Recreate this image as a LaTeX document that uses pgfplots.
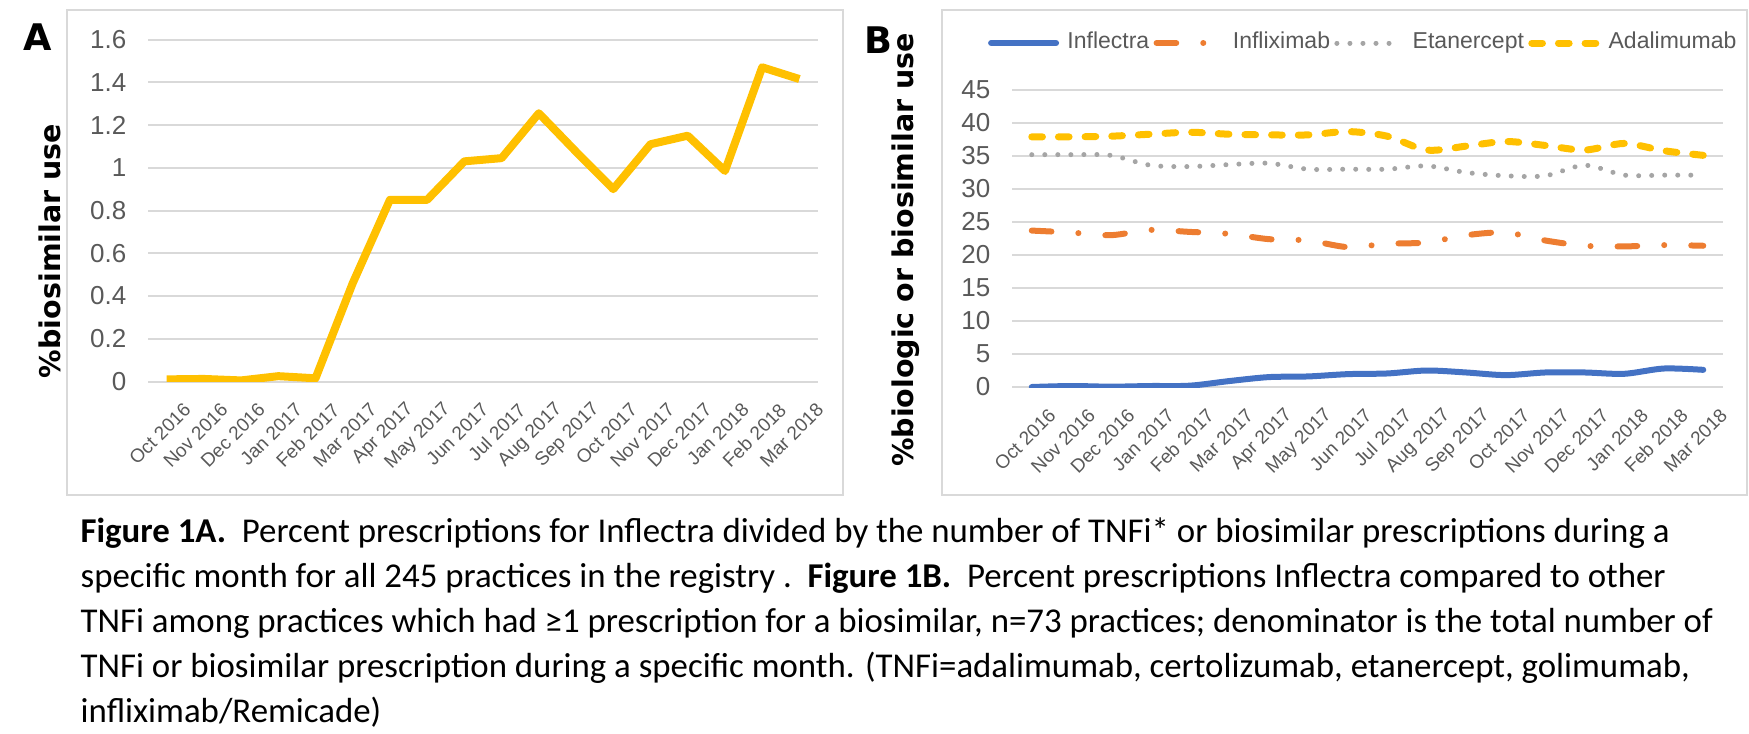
\documentclass[border=0pt]{standalone}
\usepackage{pgfplots}
\pgfplotsset{compat=1.18}
\usepackage{pgfplotstable}
\usepackage{fontspec}
\setmainfont{Carlito}
\newfontfamily\tickfont{Liberation Sans}
\newfontfamily\boldfont{DejaVu Sans}[BoldFont={DejaVu Sans Bold}]

\definecolor{xlgold}{HTML}{FFC000}
\definecolor{xlblue}{HTML}{4472C4}
\definecolor{xlorange}{HTML}{ED7D31}
\definecolor{xlgrey}{HTML}{A5A5A5}
\definecolor{gridc}{HTML}{D9D9D9}
\definecolor{txtc}{HTML}{595959}

% panel A: % biosimilar use per month
\pgfplotstableread{
x  pct
0  0.010
1  0.012
2  0.005
3  0.025
4  0.015
5  0.460
6  0.850
7  0.850
8  1.030
9  1.045
10 1.255
11 1.075
12 0.900
13 1.110
14 1.150
15 0.985
16 1.470
17 1.415
}\tblA

% panel B: share of each drug
\pgfplotstableread{
x  infl  infx  etan  adal
0  0.00  23.7  35.2  37.9
1  0.15  23.4  35.2  37.9
2  0.05  23.0  35.1  38.0
3  0.15  23.8  33.6  38.3
4  0.20  23.5  33.4  38.6
5  0.90  23.2  33.7  38.3
6  1.50  22.4  33.9  38.2
7  1.60  22.2  33.0  38.2
8  1.95  21.2  33.0  38.7
9  2.05  21.7  33.0  38.0
10 2.50  21.9  33.5  35.9
11 2.20  23.0  32.5  36.5
12 1.80  23.4  32.0  37.2
13 2.20  22.2  32.0  36.6
14 2.20  21.4  33.6  35.9
15 2.00  21.3  32.1  36.9
16 2.80  21.5  32.1  35.8
17 2.60  21.4  32.1  35.1
}\tblB

\pgfplotsset{
  xlstyle/.style={
    scale only axis,
    xmin=-0.5, xmax=17.5,
    ymin=0,
    axis line style={draw=none},
    major tick length=0pt,
    ymajorgrids,
    grid style={gridc, line width=0.6pt},
    /pgf/number format/assume math mode=true,
    xtick={0,...,17},
    xticklabels={Oct 2016,Nov 2016,Dec 2016,Jan 2017,Feb 2017,Mar 2017,Apr 2017,May 2017,Jun 2017,Jul 2017,Aug 2017,Sep 2017,Oct 2017,Nov 2017,Dec 2017,Jan 2018,Feb 2018,Mar 2018},
    xticklabel style={font=\tickfont\fontsize{5.7}{6}\selectfont, text=txtc, rotate=45, anchor=east, inner sep=0pt, xshift=-0.8pt, yshift=-9.7pt},
    yticklabel style={font=\tickfont\fontsize{7.8}{8}\selectfont, text=txtc, xshift=-3pt},
  }
}

\begin{document}
\begin{tikzpicture}
\useasboundingbox (0,0) rectangle (524.7pt,219.9pt);

% chart frames
\draw[gridc, line width=0.6pt] (20.1pt,71.4pt) rectangle (252.9pt,216.9pt);
\draw[gridc, line width=0.6pt] (282.6pt,71.4pt) rectangle (524.1pt,216.9pt);

% panel A
\begin{axis}[xlstyle,
  at={(44.4pt,105.45pt)}, anchor=south west,
  width=201pt, height=102.6pt,
  ymax=1.6, ytick={0,0.2,...,1.6},
  yticklabels={0,0.2,0.4,0.6,0.8,1,1.2,1.4,1.6},
]
\addplot[xlgold, line width=2.4pt, line join=round] table[x=x, y=pct] {\tblA};
\end{axis}

% panel B
\begin{axis}[xlstyle,
  at={(303.6pt,103.8pt)}, anchor=south west,
  width=213.3pt, height=89.1pt,
  ymax=45, ytick={0,5,...,45},
  legend style={draw=none, fill=none, font=\tickfont\fontsize{6.9}{7}\selectfont, text=txtc,
    legend columns=-1, at={(0.495,1)}, anchor=center, yshift=14.1pt,
    /tikz/every even column/.append style={column sep=0.3pt},
    /tikz/every odd column/.append style={column sep=1.5pt},
    inner sep=0pt, cells={anchor=west},
    nodes={inner sep=1pt}},
  legend image code/.code={\draw[#1] (0pt,0pt) -- (19.5pt,0pt);},
]
\addplot[xlblue, line width=1.8pt, smooth, tension=0.5, line cap=round] table[x=x, y=infl] {\tblB};
\addlegendentry{Inflectra}
\addplot[xlorange, line width=1.8pt, smooth, tension=0.5, line cap=round,
  dash pattern=on 5.9pt off 8.1pt on 0.01pt off 8.1pt] table[x=x, y=infx] {\tblB};
\addlegendentry{Infliximab}
\addplot[xlgrey, line width=1.5pt, smooth, tension=0.5, line cap=round,
  dash pattern=on 0.01pt off 3.9pt] table[x=x, y=etan] {\tblB};
\addlegendentry{Etanercept}
\addplot[xlgold, line width=2.1pt, smooth, tension=0.5, line cap=round,
  dash pattern=on 3.2pt off 4.8pt] table[x=x, y=adal] {\tblB};
\addlegendentry{Adalimumab}
\end{axis}

% panel letters and y labels
\node[font=\boldfont\bfseries\fontsize{11}{12}\selectfont] at (11.25pt,208.65pt) {A};
\node[font=\boldfont\bfseries\fontsize{11}{12}\selectfont] at (263.4pt,207.9pt) {B};
\node[font=\boldfont\bfseries\fontsize{8.55}{9}\selectfont, rotate=90] at (15pt,144.6pt) {\%biosimilar use};
\node[font=\boldfont\bfseries\fontsize{8.55}{9}\selectfont, rotate=90] at (271.8pt,144.9pt) {\%biologic or biosimilar use};

% caption
\begin{scope}[every node/.style={anchor=base west, inner sep=0pt, font=\fontsize{10.45}{12}\selectfont}]
\node at (24pt,57.3pt) {\textbf{Figure 1A.}\ \ Percent prescriptions for Inflectra divided by the number of TNFi* or biosimilar prescriptions during a};
\node at (24pt,43.8pt) {specific month for all 245 practices in the registry .\ \ \textbf{Figure 1B.}\ \ Percent prescriptions Inflectra compared to other};
\node at (24pt,30.3pt) {TNFi among practices which had ≥1 prescription for a biosimilar, n=73 practices; denominator is the total number of};
\node at (24pt,16.8pt) {TNFi or biosimilar prescription during a specific month. (TNFi=adalimumab, certolizumab, etanercept, golimumab,};
\node at (24pt,3.3pt) {infliximab/Remicade)};
\end{scope}
\end{tikzpicture}
\end{document}
